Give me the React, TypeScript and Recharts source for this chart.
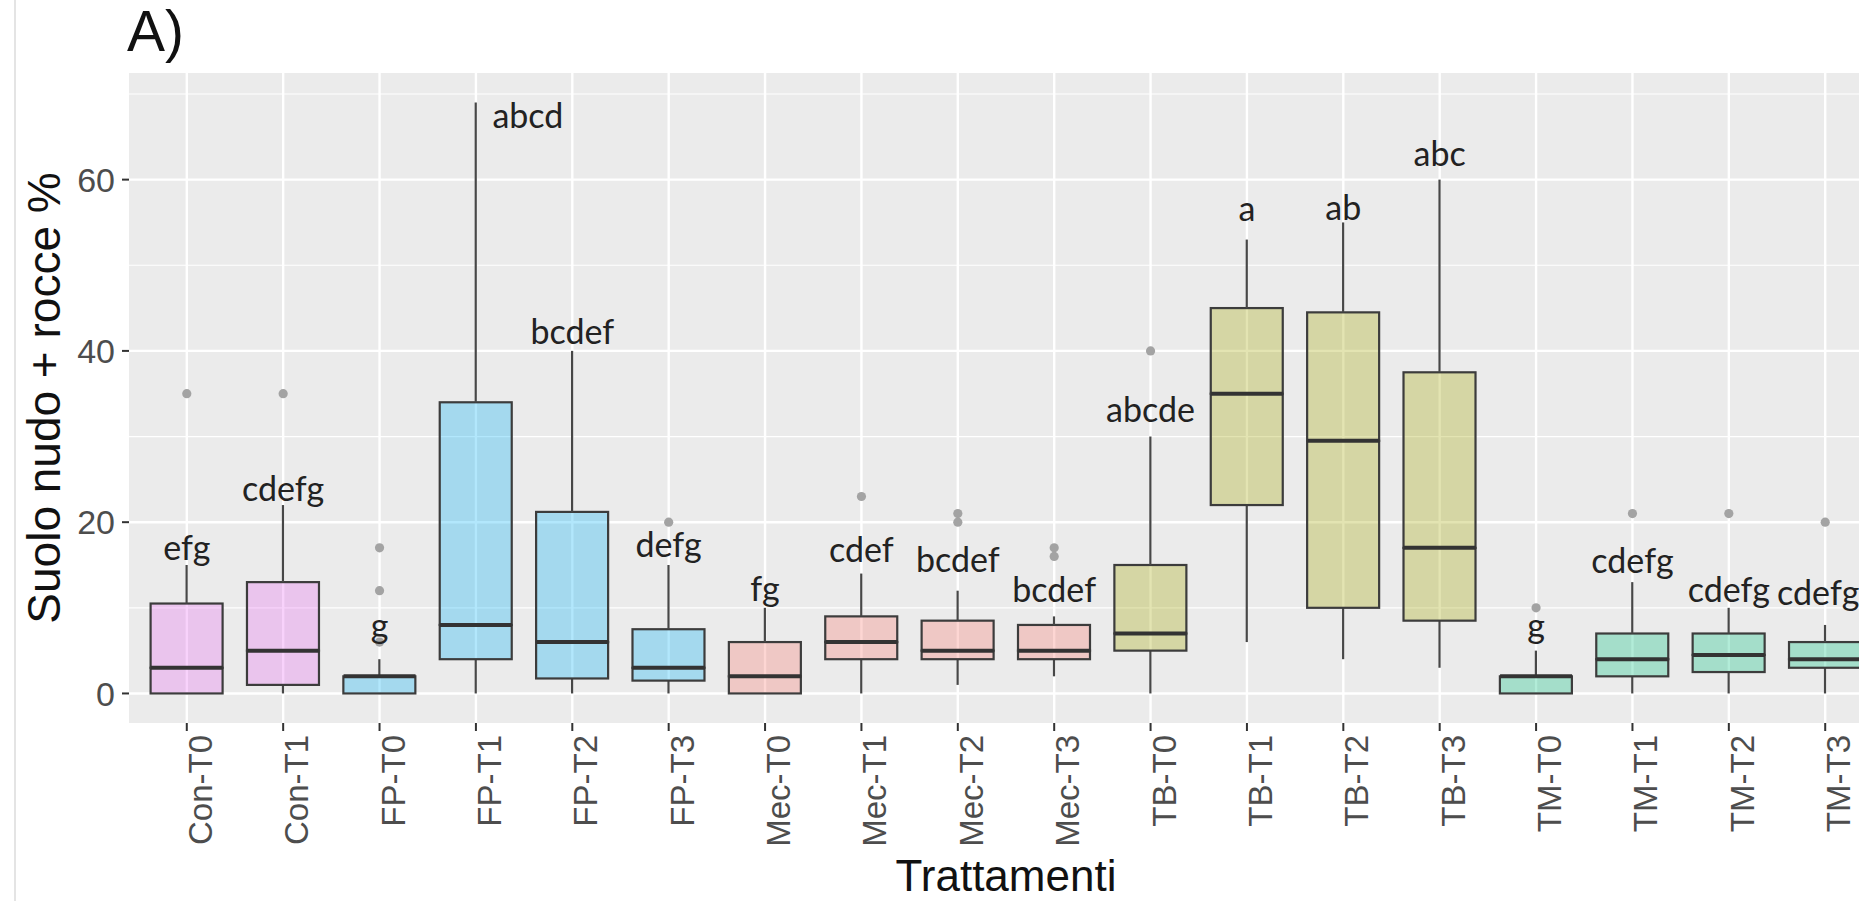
import { ComposedChart, Bar, Scatter, XAxis, YAxis, CartesianGrid } from "recharts";

// Suolo nudo + rocce (%) per trattamento: statistiche dei boxplot
const treatments = [
  "Con-T0", "Con-T1", "FP-T0", "FP-T1", "FP-T2", "FP-T3",
  "Mec-T0", "Mec-T1", "Mec-T2", "Mec-T3", "TB-T0", "TB-T1",
  "TB-T2", "TB-T3", "TM-T0", "TM-T1", "TM-T2", "TM-T3",
];
const whiskerLow = [0, 0, 0, 0, 0, 0, 0, 0, 1, 2, 0, 6, 4, 3, 0, 0, 0, 0];
const quartile1 = [0, 1, 0, 4, 1.75, 1.5, 0, 4, 4, 4, 5, 22, 10, 8.5, 0, 2, 2.5, 3];
const medians = [3, 5, 2, 8, 6, 3, 2, 6, 5, 5, 7, 35, 29.5, 17, 2, 4, 4.5, 4];
const quartile3 = [10.5, 13, 2, 34, 21.2, 7.5, 6, 9, 8.5, 8, 15, 45, 44.5, 37.5, 2, 7, 7, 6];
const whiskerHigh = [15, 22, 4, 69, 40, 15, 10, 14, 12, 9, 30, 53, 55, 60, 5, 13, 10, 8];
const outliers: number[][] = [
  [35], [35], [17, 12, 6], [], [], [20],
  [], [23], [21, 20], [17, 16], [40], [],
  [], [], [10], [21], [21], [20],
];

// lettere del test post-hoc e loro quota
const letters = [
  "efg", "cdefg", "g", "abcd", "bcdef", "defg",
  "fg", "cdef", "bcdef", "bcdef", "abcde", "a",
  "ab", "abc", "g", "cdefg", "cdefg", "cdefg",
];
const letterY = [17.2, 24.1, 8, 67.6, 42.4, 17.5, 12.4, 16.9, 15.8, 12.3, 33.3, 56.7, 56.9, 63.2, 8, 15.7, 12.3, 11.9];

const majorTicks = [0, 20, 40, 60];
const minorTicks = [10, 30, 50, 70];

const groupColors: Record<string, string> = {
  Con: "#E76BF3",
  FP: "#00B0F6",
  Mec: "#F8766D",
  TB: "#A3A500",
  TM: "#00BF7D",
};

const rows = treatments.map((name, i) => ({
  name,
  group: name.split("-")[0],
  base: whiskerLow[i],
  lowerWhisker: quartile1[i] - whiskerLow[i],
  lowerBox: medians[i] - quartile1[i],
  upperBox: quartile3[i] - medians[i],
  upperWhisker: whiskerHigh[i] - quartile3[i],
  median: medians[i],
  out1: outliers[i][0] ?? null,
  out2: outliers[i][1] ?? null,
  out3: outliers[i][2] ?? null,
  letter: letters[i],
  letterY: letterY[i],
}));

const BOX_WIDTH = 72;
const AXIS_FONT = "'Liberation Sans', Arial, sans-serif";
// horizontal shift of a few letter labels (px)
const LETTER_NUDGE: Record<string, number> = { "FP-T1": 52, "TM-T3": -7 };

const WhiskerShape = (p: any) => {
  const cx = p.x + p.width / 2;
  return <line x1={cx} x2={cx} y1={p.y} y2={p.y + p.height} stroke="#474747" strokeWidth={2.2} />;
};

const BoxShape = (p: any) => (
  <rect
    x={p.x}
    y={p.y}
    width={p.width}
    height={Math.max(p.height, 0)}
    fill={groupColors[p.payload.group]}
    fillOpacity={0.3}
    stroke="#3c3c3c"
    strokeWidth={2.2}
  />
);

const MedianShape = (p: any) => {
  if (!Number.isFinite(p.cy)) return <g />;
  return (
    <line
      x1={p.cx - BOX_WIDTH / 2}
      x2={p.cx + BOX_WIDTH / 2}
      y1={p.cy}
      y2={p.cy}
      stroke="#333333"
      strokeWidth={4}
    />
  );
};

// one scatter series per outlier slot; empty slots draw nothing
const outlierShape = (key: "out1" | "out2" | "out3") => (p: any) => {
  if (p.payload == null || p.payload[key] == null || !Number.isFinite(p.cy)) return <g />;
  return <circle cx={p.cx} cy={p.cy} r={4.6} fill="#a3a3a3" />;
};

const LetterShape = (p: any) => {
  if (!Number.isFinite(p.cy)) return <g />;
  const dx = LETTER_NUDGE[p.payload.name] ?? 0;
  return (
    <text
      x={p.cx + dx}
      y={p.cy}
      textAnchor="middle"
      dominantBaseline="central"
      fontFamily="Lato, 'Open Sans', sans-serif"
      fontSize={34}
      fill="#222222"
    >
      {p.payload.letter}
    </text>
  );
};

const XTick = (p: any) => (
  <text
    transform={`translate(${p.x},${p.y}) rotate(-90)`}
    x={0}
    y={0}
    dy={25}
    textAnchor="end"
    fontFamily={AXIS_FONT}
    fontSize={33}
    fill="#4d4d4d"
  >
    {p.payload.value}
  </text>
);

export default function App() {
  return (
    <div style={{ position: "relative", width: 1859, height: 901, overflow: "hidden", background: "#fff" }}>
      <style>{"body{margin:0}"}</style>
      <div style={{ position: "absolute", left: 14, top: 0, width: 2, height: 901, background: "#e4e4e4" }} />
      <svg width={300} height={80} style={{ position: "absolute", left: 0, top: 0 }}>
        <text x={127} y={51} fontFamily={AXIS_FONT} fontSize={57} fill="#111">
          A)
        </text>
      </svg>
      <div style={{ position: "absolute", left: 0, top: 0 }}>
        <ComposedChart
          width={1883}
          height={901}
          data={rows}
          margin={{ top: 73, right: 0, bottom: 0, left: 0 }}
          barCategoryGap={0}
        >
          <CartesianGrid
            fill="#EBEBEB"
            stroke="#FFFFFF"
            strokeWidth={1.2}
            vertical={false}
            horizontalValues={minorTicks}
            syncWithTicks
          />
          <CartesianGrid stroke="#FFFFFF" strokeWidth={2.4} syncWithTicks />
          <XAxis
            dataKey="name"
            type="category"
            interval={0}
            height={178}
            padding={{ left: 9.6, right: 9.6 }}
            axisLine={false}
            tickLine={{ stroke: "#333333", strokeWidth: 2 }}
            tickSize={8}
            tickMargin={4}
            tick={<XTick />}
            label={{
              value: "Trattamenti",
              position: "insideBottom",
              offset: 10,
              fontFamily: AXIS_FONT,
              fontSize: 44,
              fill: "#111111",
            }}
          />
          <YAxis
            type="number"
            domain={[-3.45, 72.45]}
            ticks={majorTicks}
            width={129}
            axisLine={false}
            tickLine={{ stroke: "#333333", strokeWidth: 2 }}
            tickSize={7}
            tickMargin={7}
            tick={{ fontFamily: AXIS_FONT, fontSize: 34, fill: "#4d4d4d" }}
            label={{
              value: "Suolo nudo + rocce %",
              position: "center",
              angle: -90,
              dx: -21,
              fontFamily: AXIS_FONT,
              fontSize: 46,
              fill: "#111111",
            }}
          />
          <Bar dataKey="base" stackId="box" fill="none" barSize={BOX_WIDTH} isAnimationActive={false} />
          <Bar dataKey="lowerWhisker" stackId="box" barSize={BOX_WIDTH} shape={WhiskerShape} isAnimationActive={false} />
          <Bar dataKey="lowerBox" stackId="box" barSize={BOX_WIDTH} shape={BoxShape} isAnimationActive={false} />
          <Bar dataKey="upperBox" stackId="box" barSize={BOX_WIDTH} shape={BoxShape} isAnimationActive={false} />
          <Bar dataKey="upperWhisker" stackId="box" barSize={BOX_WIDTH} shape={WhiskerShape} isAnimationActive={false} />
          <Scatter dataKey="median" shape={MedianShape} isAnimationActive={false} />
          <Scatter dataKey="out1" shape={outlierShape("out1")} isAnimationActive={false} />
          <Scatter dataKey="out2" shape={outlierShape("out2")} isAnimationActive={false} />
          <Scatter dataKey="out3" shape={outlierShape("out3")} isAnimationActive={false} />
          <Scatter dataKey="letterY" shape={LetterShape} isAnimationActive={false} />
        </ComposedChart>
      </div>
    </div>
  );
}
